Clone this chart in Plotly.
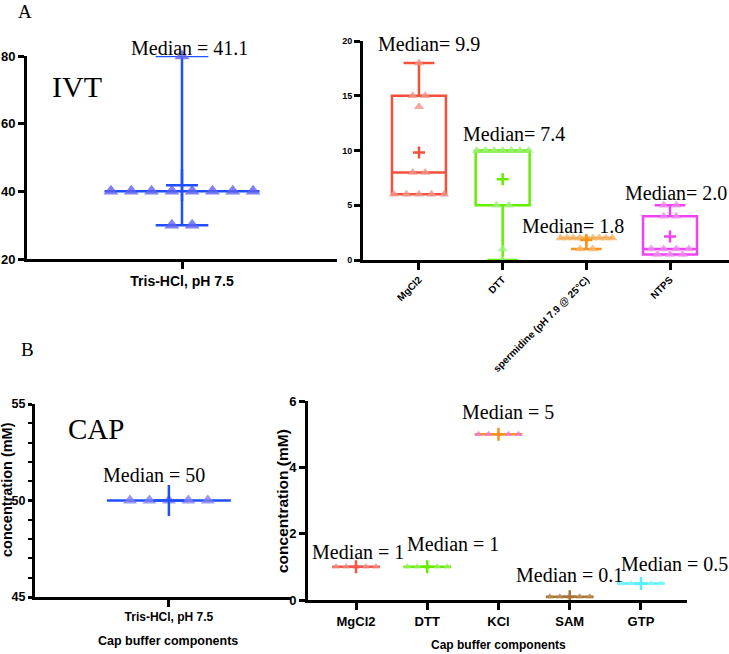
import numpy as np
import plotly.graph_objects as go

# ---------------- data ----------------
ivt_left_category = ["Tris-HCl, pH 7.5"]
ivt_tris = [80, 40, 40, 40, 40, 40, 40, 40, 40, 30, 30]

ivt_categories = ["MgCl2", "DTT", "spermidine (pH 7.9 @ 25°C)", "NTPS"]
ivt_mgcl2 = [18, 15, 15, 14, 8, 8, 6, 6, 6, 6, 6]
ivt_dtt = [10, 10, 10, 10, 10, 10, 10, 5, 5, 1, 0]
ivt_spermidine = [2, 2, 2, 2, 2, 2, 2, 2, 2, 1, 1]
ivt_ntps = [5, 5, 4, 4, 1, 1, 1, 1, 0.5, 0.5, 0.5]

cap_left_category = ["Tris-HCl, pH 7.5"]
cap_tris = [50, 50, 50, 50, 50]

cap_categories = ["MgCl2", "DTT", "KCl", "SAM", "GTP"]
cap_mgcl2 = [1, 1, 1, 1, 1]
cap_dtt = [1, 1, 1, 1, 1]
cap_kcl = [5, 5, 5, 5, 5]
cap_sam = [0.1, 0.1, 0.1, 0.1, 0.1]
cap_gtp = [0.5, 0.5, 0.5, 0.5, 0.5]

ivt_left_label = ["Median = 41.1"]
ivt_labels = ["Median= 9.9", "Median= 7.4", "Median= 1.8", "Median= 2.0"]
cap_left_label = ["Median = 50"]
cap_labels = ["Median = 1", "Median = 1", "Median = 5", "Median = 0.1", "Median = 0.5"]

# ---------------- helpers ----------------
W, H = 729, 654
SERIF = "Liberation Serif, Times New Roman, serif"
SANS = "Liberation Sans, Arial, sans-serif"
NARROW = "Liberation Sans Narrow, Arial Narrow, Liberation Sans, Arial, sans-serif"


def P(x, y):
    return x / W, 1 - y / H


fig = go.Figure()


def add_group(pos, vals, color, pcolor, ax, box_w, whisk_w, mean_size,
              pt_size, spacing, max_span):
    xa, ya = ("x" + ax, "y" + ax) if ax != "1" else ("x", "y")
    v = np.asarray(vals, dtype=float)
    q1, med, q3 = np.percentile(v, [25, 50, 75], method="weibull")
    xs, ys = [], []
    for val in sorted(set(v.tolist()), reverse=True):
        n = int(np.sum(v == val))
        sp = spacing if n < 2 else min(spacing, max_span / (n - 1))
        for k in range(n):
            xs.append(pos + (k - (n - 1) / 2) * sp)
            ys.append(val)
    fig.add_trace(go.Box(
        x=[pos], q1=[q1], median=[med], q3=[q3],
        lowerfence=[v.min()], upperfence=[v.max()],
        width=box_w, whiskerwidth=whisk_w,
        line=dict(color=color, width=2.5), fillcolor="rgba(0,0,0,0)",
        boxpoints=False, xaxis=xa, yaxis=ya, hoverinfo="skip"))
    fig.add_trace(go.Scatter(
        x=xs, y=ys, mode="markers", xaxis=xa, yaxis=ya, cliponaxis=False,
        marker=dict(symbol="triangle-up", size=pt_size, color=pcolor,
                    opacity=0.8, line=dict(width=0))))
    # plotly's cross-thin arm length is 1.4 * size
    fig.add_trace(go.Scatter(
        x=[pos], y=[v.mean()], mode="markers", xaxis=xa, yaxis=ya,
        cliponaxis=False,
        marker=dict(symbol="cross-thin", size=mean_size / 1.4,
                    line=dict(color=color, width=2.5))))


# Panel A left
add_group(0, ivt_tris, "#1f4fff", "#6262f0", "1", 1.0, 0.34, 32, 13, 0.131, 1.0)
# Panel A right
a_cols = ["#f4503a", "#66ee00", "#f7941d", "#ee44f0"]
a_pcols = ["#f4948a", "#9ef07a", "#f8b46a", "#f08af0"]
for i, vals in enumerate([ivt_mgcl2, ivt_dtt, ivt_spermidine, ivt_ntps]):
    add_group(i, vals, a_cols[i], a_pcols[i], "2", 0.645, 0.57, 12, 9, 0.15, 0.62)
# Panel B left
add_group(0, cap_tris, "#1f4fff", "#8080f5", "3", 0.484, 0.3, 31, 12, 0.076, 0.4)
# Panel B right
b_cols = ["#f2584a", "#66ee00", "#f7941d", "#a87436", "#55eeff"]
b_pcols = ["#f08a80", "#99f060", "#ee77dd", "#b88a50", "#88f4ff"]
for i, vals in enumerate([cap_mgcl2, cap_dtt, cap_kcl, cap_sam, cap_gtp]):
    add_group(i, vals, b_cols[i], b_pcols[i], "4", 0.67, 0.5, 13, 7, 0.14, 0.6)


def xcfg(dom, rng, cats, anchor, fsize, family=SANS, angle=0):
    return dict(domain=dom, range=rng, anchor=anchor, tickmode="array",
                tickvals=list(range(len(cats))), ticktext=cats,
                showline=True, linewidth=3, linecolor="black",
                ticks="outside", ticklen=7, tickwidth=2.5, tickcolor="black",
                showgrid=False, zeroline=False, tickangle=angle,
                tickfont=dict(family=family, size=fsize, color="black",
                              weight="bold"))


def ycfg(dom, rng, dtick, anchor, fsize, family=SANS, minor=None, ticklen=6):
    d = dict(domain=dom, range=rng, anchor=anchor, tickmode="linear",
             tick0=rng[0], dtick=dtick,
             showline=True, linewidth=3, linecolor="black",
             ticks="outside", ticklen=ticklen, tickwidth=2.5, tickcolor="black",
             showgrid=False, zeroline=False,
             tickfont=dict(family=family, size=fsize, color="black",
                           weight="bold"))
    if minor:
        d["minor"] = minor
    return d


fig.update_layout(
    width=W, height=H, autosize=False,
    margin=dict(l=0, r=0, t=0, b=0, pad=0, autoexpand=False),
    paper_bgcolor="white", plot_bgcolor="white", showlegend=False,
    xaxis=xcfg([27 / W, 337 / W], [-1, 1], ivt_left_category, "y", 14),
    yaxis=ycfg([1 - 259 / H, 1 - 56 / H], [20, 80], 20, "x", 13),
    xaxis2=xcfg([363 / W, 1.0], [-0.669, 3.705], ivt_categories, "y2", 10,
                angle=-45),
    yaxis2=ycfg([1 - 260 / H, 1 - 41 / H], [0, 20], 5, "x2", 9),
    xaxis3=xcfg([35 / W, 291 / W], [-0.523, 0.477], cap_left_category, "y3", 12),
    yaxis3=ycfg([1 - 597 / H, 1 - 404 / H], [45, 55], 5, "x3", 12.5, ticklen=4,
                minor=dict(dtick=1, ticks="outside", ticklen=4, tickwidth=2,
                           tickcolor="black", showgrid=False)),
    xaxis4=xcfg([308 / W, 687 / W], [-0.674, 4.646], cap_categories, "y4", 13,
                family=NARROW),
    yaxis4=ycfg([1 - 600 / H, 1 - 401 / H], [0, 6], 2, "x4", 13, family=NARROW),
)

anns = []


def txt(text, x, y, size, family=SERIF, angle=0, bold=False):
    px, py = P(x, y)
    anns.append(dict(text=text, x=px, y=py, xref="paper", yref="paper",
                     showarrow=False, xanchor="center", yanchor="middle",
                     textangle=angle,
                     font=dict(family=family, size=size, color="black",
                               weight="bold" if bold else "normal")))


txt("A", 25, 11, 19)
txt("B", 27, 349, 19)
txt("IVT", 77, 87, 30)
txt("CAP", 96, 429, 29)

txt(ivt_left_label[0], 189, 48, 20)
for lab, (x, y) in zip(ivt_labels, [(429, 44), (514, 134), (573, 226), (676, 193)]):
    txt(lab, x, y, 20)
txt(cap_left_label[0], 154, 475, 20)
for lab, (x, y) in zip(cap_labels, [(358, 552), (453, 544), (508, 412),
                                     (569, 575), (674, 564)]):
    txt(lab, x, y, 20)

txt("concentration (mM)", 7, 490, 14.5, family=SANS, angle=-90, bold=True)
txt("concentration (mM)", 282, 501, 15.5, family=SANS, angle=-90, bold=True)
txt("Cap buffer components", 168, 641, 12.5, family=SANS, bold=True)
txt("Cap buffer components", 498, 645, 12, family=SANS, bold=True)

fig.update_layout(annotations=anns)
fig.write_html("out.html", config={"displayModeBar": False},
               post_script="document.body.style.margin='0';"
                           "document.body.style.overflow='hidden';")
